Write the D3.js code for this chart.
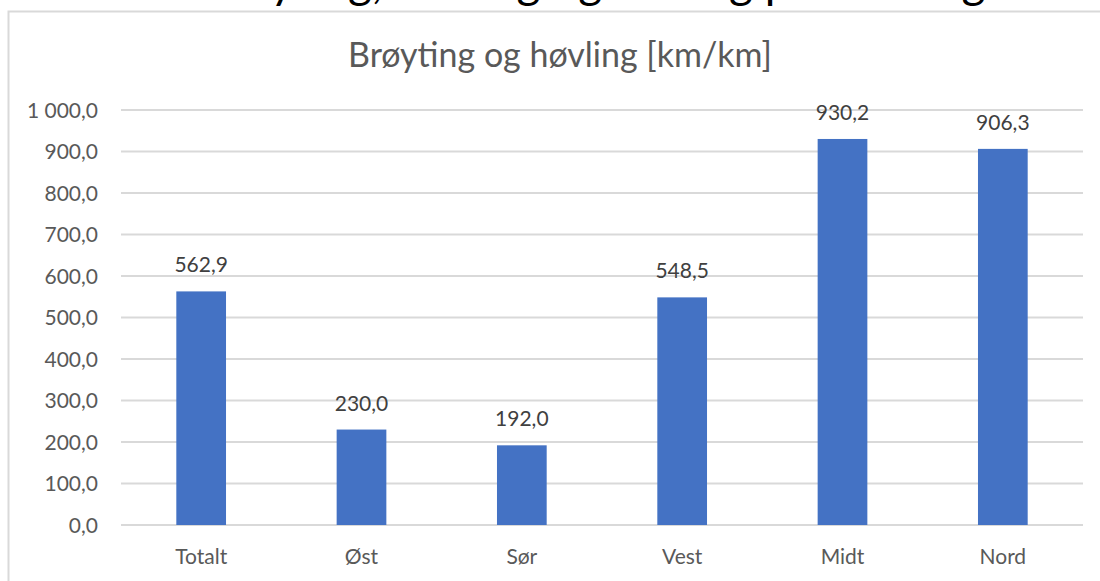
<!DOCTYPE html>
<meta charset="utf-8">
<style>
body { margin: 0; background: #fff; }
text { font-family: Lato, "Open Sans", sans-serif; }
.grid line { stroke: #d9d9d9; stroke-width: 2; }
.bar { fill: #4472c4; }
</style>
<body>
<div id="chart"></div>
<script src="https://cdn.jsdelivr.net/npm/d3@7"></script>
<script>
// data
var regions = ["Totalt", "Øst", "Sør", "Vest", "Midt", "Nord"];
var kmPerKm = [562.9, 230.0, 192.0, 548.5, 930.2, 906.3];
var yTicks = [0, 100, 200, 300, 400, 500, 600, 700, 800, 900, 1000];

var width = 1100, height = 581;

var no = d3.formatLocale({decimal: ",", thousands: "\u00a0", grouping: [3], currency: ["", " kr"]});
var fmt = no.format(",.1f");

var svg = d3.select("#chart").append("svg")
    .attr("width", width)
    .attr("height", height)
    .style("display", "block");

// heading of the page, only its lower edge shows above the chart
svg.append("text")
    .attr("x", 200)
    .attr("y", -2)
    .attr("font-size", 46)
    .attr("fill", "#000")
    .text("Brøyting, høvling og strøing per km veg");

// chart area border
svg.append("rect")
    .attr("x", 8.5).attr("y", 11.5)
    .attr("width", 1100).attr("height", 620)
    .attr("fill", "#fff")
    .attr("stroke", "#d9d9d9")
    .attr("stroke-width", 2);

svg.append("text")
    .attr("x", 560)
    .attr("y", 67)
    .attr("text-anchor", "middle")
    .attr("font-size", 34)
    .attr("fill", "#595959")
    .text("Brøyting og høvling [km/km]");

var x = d3.scaleBand()
    .domain(regions)
    .range([121, 1083])
    .paddingInner(0.69)
    .paddingOuter(0.345);

var y = d3.scaleLinear()
    .domain([0, 1000])
    .range([525, 110]);

// gridlines
svg.append("g")
    .attr("class", "grid")
    .selectAll("line")
    .data(yTicks)
    .enter().append("line")
    .attr("x1", 121).attr("x2", 1083)
    .attr("y1", function(d) { return y(d); })
    .attr("y2", function(d) { return y(d); });

// y axis labels
svg.append("g")
    .selectAll("text")
    .data(yTicks)
    .enter().append("text")
    .attr("x", 98)
    .attr("y", function(d) { return y(d); })
    .attr("dy", "0.36em")
    .attr("text-anchor", "end")
    .attr("font-size", 21)
    .attr("fill", "#595959")
    .text(function(d) { return fmt(d); });

// bars
svg.selectAll(".bar")
    .data(kmPerKm)
    .enter().append("rect")
    .attr("class", "bar")
    .attr("x", function(d, i) { return x(regions[i]); })
    .attr("width", x.bandwidth())
    .attr("y", function(d) { return y(d); })
    .attr("height", function(d) { return y(0) - y(d); });

// value labels
svg.append("g")
    .selectAll("text")
    .data(kmPerKm)
    .enter().append("text")
    .attr("x", function(d, i) { return x(regions[i]) + x.bandwidth() / 2; })
    .attr("y", function(d) { return y(d) - 19; })
    .attr("text-anchor", "middle")
    .attr("font-size", 21)
    .attr("fill", "#404040")
    .text(function(d) { return fmt(d); });

// category labels
svg.append("g")
    .selectAll("text")
    .data(regions)
    .enter().append("text")
    .attr("x", function(d) { return x(d) + x.bandwidth() / 2; })
    .attr("y", 564)
    .attr("text-anchor", "middle")
    .attr("font-size", 21)
    .attr("fill", "#595959")
    .text(function(d) { return d; });
</script>
</body>
